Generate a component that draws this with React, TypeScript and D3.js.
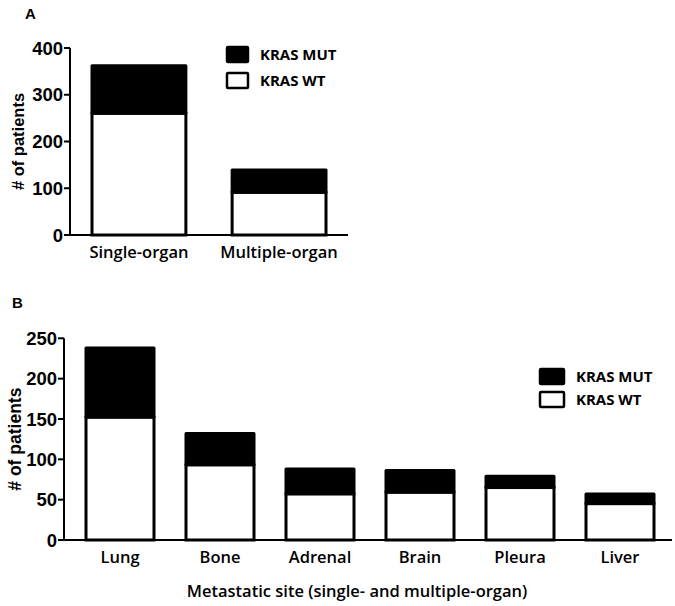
import React from "react";
import * as d3 from "d3";

const catsA = ["Single-organ", "Multiple-organ"];
const wtA = [260, 91];
const mutA = [102, 48];

const catsB = ["Lung", "Bone", "Adrenal", "Brain", "Pleura", "Liver"];
const wtB = [152, 93, 57, 59, 65, 45];
const mutB = [86, 39, 31, 27, 14, 12];

const ticksA = [0, 100, 200, 300, 400];
const ticksB = [0, 50, 100, 150, 200, 250];

const seriesNames = ["KRAS MUT", "KRAS WT"];

const numFont = "'Liberation Sans', Arial, sans-serif";
const txtFont = "'Open Sans', sans-serif";

function Panel({ cats, wt, mut, ticks, yMax, x0, x1, bandX0, bandX1, y0, y1, padIn, padOut, label, labelPos, yLabelX, yLabelSize, legend, xTitle }: any) {
  const y = d3.scaleLinear().domain([0, yMax]).range([y0, y1]);
  const x = d3.scaleBand().domain(cats).range([bandX0, bandX1]).paddingInner(padIn).paddingOuter(padOut);
  const bw = x.bandwidth();
  return (
    <g>
      <text x={labelPos[0]} y={labelPos[1]} fontFamily={numFont} fontWeight="bold" fontSize={15}>{label}</text>
      {cats.map((c: string, i: number) => {
        const xx = x(c)!;
        const total = wt[i] + mut[i];
        return (
          <g key={c}>
            <rect x={xx} y={y(total)} width={bw} height={y(wt[i]) - y(total)} fill="#000" stroke="#000" strokeWidth={3} strokeLinejoin="round" />
            <rect x={xx} y={y(wt[i])} width={bw} height={y(0) - y(wt[i])} fill="#fff" stroke="#000" strokeWidth={3} />
            <text x={xx + bw / 2} y={y0 + 23} textAnchor="middle" fontFamily={txtFont} fontWeight={600} fontSize={16.5}>{c}</text>
          </g>
        );
      })}
      <line x1={x0} x2={x0} y1={y(yMax)} y2={y0} stroke="#000" strokeWidth={2} />
      <line x1={x0 - 1} x2={x1} y1={y0} y2={y0} stroke="#000" strokeWidth={2} />
      {ticks.map((t: number) => (
        <g key={t}>
          <line x1={x0 - 6} x2={x0} y1={y(t)} y2={y(t)} stroke="#000" strokeWidth={2} />
          <text x={x0 - 7} y={y(t)} dy="0.36em" textAnchor="end" fontFamily={numFont} fontWeight="bold" fontSize={18.5}>{t}</text>
        </g>
      ))}
      <text transform={`translate(${yLabelX},${(y0 + y(yMax)) / 2}) rotate(-90)`} textAnchor="middle" dy="0.35em" fontFamily={numFont} fontWeight="bold" fontSize={yLabelSize}># of patients</text>
      {seriesNames.map((s, i) => (
        <g key={s}>
          <rect x={legend[0]} y={legend[1] + i * legend[3]} width={legend[2]} height={15} fill={i === 0 ? "#000" : "#fff"} stroke="#000" strokeWidth={2.5} rx={1} />
          <text x={legend[0] + legend[2] + 12} y={legend[1] + i * legend[3] + 7.5} dy="0.36em" fontFamily={txtFont} fontWeight={700} fontSize={15}>{s}</text>
        </g>
      ))}
      {xTitle && (
        <text x={357} y={597} textAnchor="middle" fontFamily={txtFont} fontWeight={600} fontSize={16.5}>{xTitle}</text>
      )}
    </g>
  );
}

export default function App() {
  return (
    <svg width={675} height={606} style={{ position: "absolute", left: 0, top: 0, background: "#fff" }}>
      <Panel cats={catsA} wt={wtA} mut={mutA} ticks={ticksA} yMax={400}
        x0={70} x1={348} bandX0={70} bandX1={348} y0={235} y1={48} padIn={0.33} padOut={0.157}
        label="A" labelPos={[25, 19]} yLabelX={18} yLabelSize={16.5} legend={[227, 47, 21, 26]} />
      <Panel cats={catsB} wt={wtB} mut={mutB} ticks={ticksB} yMax={250}
        x0={64} x1={672} bandX0={70} bandX1={670} y0={540} y1={338.3} padIn={0.32} padOut={0.16}
        label="B" labelPos={[12, 308]} yLabelX={15} yLabelSize={17.5} legend={[540, 369, 24, 23]}
        xTitle="Metastatic site (single- and multiple-organ)" />
    </svg>
  );
}
